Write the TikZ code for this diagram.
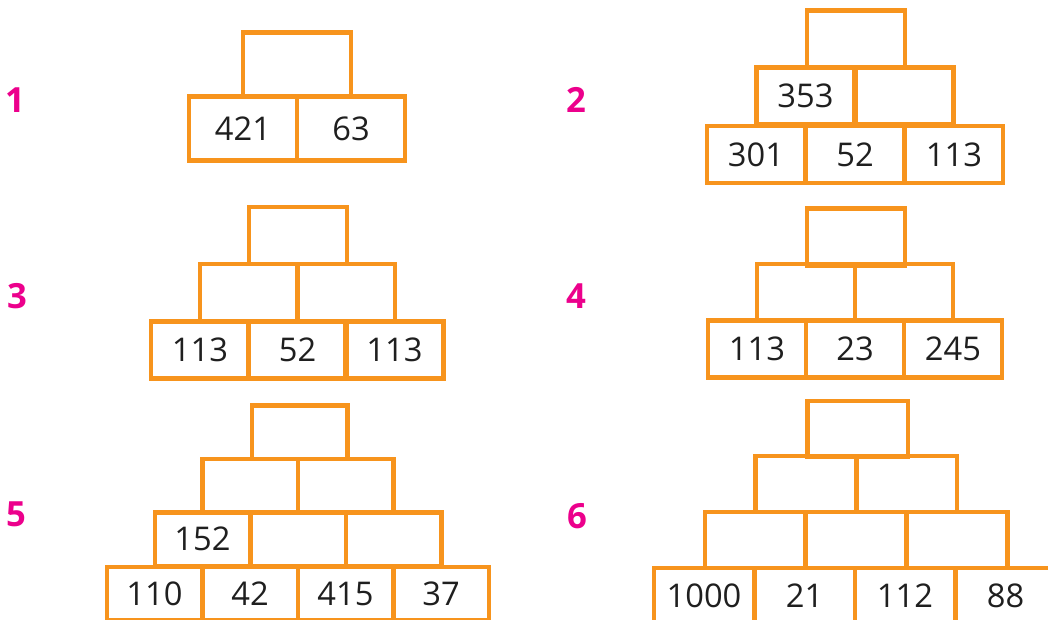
\documentclass[tikz,border=0pt]{standalone}
\usepackage{fontspec}
\setmainfont{Open Sans}
\usepackage{xcolor}
\usepackage{tikz}
\usetikzlibrary{positioning}

\definecolor{brickorange}{RGB}{247,148,29}
\definecolor{labelpink}{RGB}{236,0,140}
\newlength\px
\setlength\px{0.75pt}

\begin{document}
\begin{tikzpicture}[
    x=0.75pt, y=-0.75pt,
    cell/.style={rectangle, draw=brickorange, line width=4.5\px, inner sep=0pt, font=\fontsize{24.5}{24.5}\selectfont, text=black!88},
    bigcell/.style={cell, minimum width=108\px, minimum height=64\px},
    midcell/.style={cell, minimum width=98\px, minimum height=57\px},
    slimcell/.style={cell, minimum width=95.5\px, minimum height=53.5\px},
    widecell/.style={cell, minimum width=100.5\px, minimum height=56\px},
    tasknum/.style={text=labelpink, font=\fontsize{26}{26}\selectfont\bfseries}
]
\useasboundingbox (0,0) rectangle (1048,619);
\clip (0,0) rectangle (1048,619);

% Task 1
\node[tasknum] (num1) at (15,100) {1};
\node[bigcell] (p1a) at (243,128.5) {421};
\node[bigcell] (p1b) at (351,128.5) {63};
\node[bigcell] (p1top) at (297,64.5) {};

% Task 2
\node[tasknum] (num2) at (576,100) {2};
\node[midcell] (p2a) at (756,154.5) {301};
\node[midcell] (p2b) at (855,154.5) {52};
\node[midcell] (p2c) at (954,154.5) {113};
\node[midcell] (p2d) at (805.5,96) {353};
\node[midcell] (p2e) at (904.5,96) {};
\node[midcell] (p2top) at (856,39) {};

% Task 3
\node[tasknum] (num3) at (17,296) {3};
\node[midcell] (p3a) at (200,350) {113};
\node[midcell] (p3b) at (297.5,350) {52};
\node[midcell] (p3c) at (394.5,350) {113};
\node[midcell] (p3d) at (249,292.5) {};
\node[midcell] (p3e) at (346,292.5) {};
\node[midcell] (p3top) at (298,235.5) {};

% Task 4
\node[tasknum] (num4) at (576,296) {4};
\node[midcell] (p4a) at (757,349) {113};
\node[midcell] (p4b) at (855,349) {23};
\node[midcell] (p4c) at (953,349) {245};
\node[midcell] (p4d) at (806,292.5) {};
\node[midcell] (p4e) at (904,292.5) {};
\node[midcell] (p4top) at (856,237) {};

% Task 5
\node[tasknum] (num5) at (16,514) {5};
\node[slimcell] (p5a) at (154.5,593.5) {110};
\node[slimcell] (p5b) at (250,593.5) {42};
\node[slimcell] (p5c) at (345.5,593.5) {415};
\node[slimcell] (p5d) at (441,593.5) {37};
\node[slimcell] (p5e) at (202.5,539) {152};
\node[slimcell] (p5f) at (298,539) {};
\node[slimcell] (p5g) at (393.5,539) {};
\node[slimcell] (p5h) at (250,485.5) {};
\node[slimcell] (p5i) at (345.5,485.5) {};
\node[slimcell] (p5top) at (299.5,432) {};

% Task 6
\node[tasknum] (num6) at (577,516) {6};
\node[widecell] (p6a) at (704,596) {1000};
\node[widecell] (p6b) at (804.5,596) {21};
\node[widecell] (p6c) at (905,596) {112};
\node[widecell] (p6d) at (1005.5,596) {88};
\node[widecell] (p6e) at (755,540) {};
\node[widecell] (p6f) at (856,540) {};
\node[widecell] (p6g) at (957,540) {};
\node[widecell] (p6h) at (805.5,484) {};
\node[widecell] (p6i) at (906.5,484) {};
\node[widecell] (p6top) at (857.5,429) {};

\end{tikzpicture}
\end{document}
